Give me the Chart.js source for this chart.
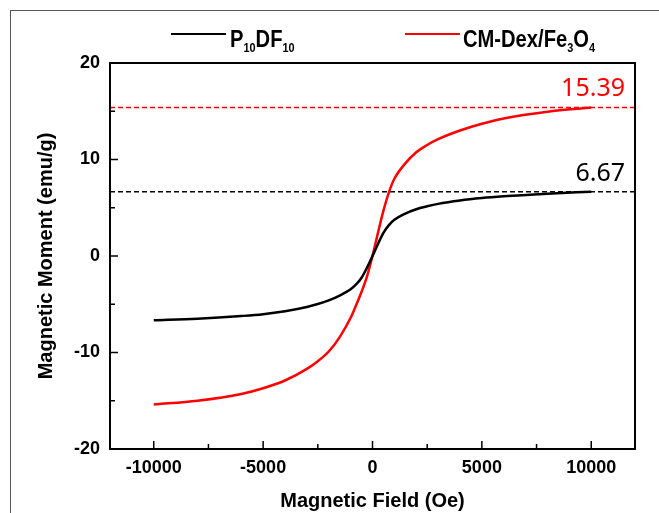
<!DOCTYPE html>
<html>
<head>
<meta charset="utf-8">
<script src="https://cdn.jsdelivr.net/npm/chart.js@4.4.1/dist/chart.umd.min.js"></script>
<style>
  html, body { margin: 0; padding: 0; background: #fff; overflow: hidden; }
  #frame { position: absolute; left: 10px; top: 10px; width: 700px; height: 600px;
           border-left: 1.5px solid #555; border-top: 1.5px solid #555; }
  #chart { position: absolute; left: 0; top: 0; }
  .swatch { position: absolute; top: 33px; width: 55px; height: 2px; }
  .label { position: absolute; top: 27px; line-height: 24px; white-space: nowrap;
           font-family: "Liberation Sans", Arial, sans-serif; font-weight: bold; font-size: 24px;
           color: #000; transform: scaleX(0.84); transform-origin: left top; }
  .label sub { font-size: 13px; vertical-align: -5px; line-height: 0; }
</style>
</head>
<body>
<div id="frame"></div>
<canvas id="chart" width="659" height="513"></canvas>
<div class="swatch" style="left:171px;background:#000"></div>
<div class="label" style="left:230px">P<sub>10</sub>DF<sub>10</sub></div>
<div class="swatch" style="left:405px;background:#ff0000"></div>
<div class="label" style="left:463px">CM-Dex/Fe<sub>3</sub>O<sub>4</sub></div>
<script>
// magnetic field (Oe)
const field = [-10000, -8000, -6000, -5000, -4000, -3000, -2500, -2000, -1500, -1000, -750, -500, -250, 0,
  250, 500, 750, 1000, 1500, 2000, 2500, 3000, 4000, 5000, 6000, 8000, 10000];
// magnetic moment (emu/g)
const p10df10 = [-6.67, -6.5, -6.22, -6.03, -5.72, -5.28, -4.98, -4.6, -4.1, -3.45, -2.95, -2.25, -1.2, 0,
  1.25, 2.4, 3.2, 3.75, 4.4, 4.85, 5.15, 5.4, 5.75, 6.0, 6.18, 6.45, 6.67];
const cmDexFe3O4 = [-15.39, -15.0, -14.3, -13.7, -12.9, -11.7, -10.9, -9.9, -8.4, -6.4, -5.1, -3.7, -2.1, 0,
  2.4, 4.7, 6.6, 8.0, 9.6, 10.75, 11.5, 12.1, 13.0, 13.7, 14.25, 14.95, 15.39];

const satValues = [6.67, 15.39];
const satLabels = ["6.67", "15.39"];
const colors = ["#000000", "#ff0000"];

const xRange = [-12000, 12000];
const yRange = [-20, 20];
const xTicks = [-10000, -5000, 0, 5000, 10000];
const xMinor = [-7500, -2500, 2500, 7500];
const yTicks = [-20, -10, 0, 10, 20];
const yMinor = [-15, -5, 5, 15];

const tickFont = { family: "Liberation Sans, Arial, sans-serif", size: 18, weight: "bold" };
const titleFont = { family: "Liberation Sans, Arial, sans-serif", size: 20, weight: "bold" };

const toPts = (ys) => field.map((x, i) => ({ x: x, y: ys[i] }));

// frame, inward ticks and saturation labels
const extras = {
  id: "extras",
  afterDatasetsDraw(chart) {
    const ctx = chart.ctx;
    const a = chart.chartArea;
    const xs = chart.scales.x;
    const ys = chart.scales.y;
    ctx.save();
    ctx.strokeStyle = "#000";
    ctx.lineWidth = 2;
    ctx.strokeRect(a.left, a.top, a.right - a.left, a.bottom - a.top);
    ctx.lineWidth = 1.5;
    ctx.beginPath();
    xTicks.forEach(v => { const p = xs.getPixelForValue(v); ctx.moveTo(p, a.bottom); ctx.lineTo(p, a.bottom - 8); });
    xMinor.forEach(v => { const p = xs.getPixelForValue(v); ctx.moveTo(p, a.bottom); ctx.lineTo(p, a.bottom - 5); });
    yTicks.forEach(v => { const p = ys.getPixelForValue(v); ctx.moveTo(a.left, p); ctx.lineTo(a.left + 8, p); });
    yMinor.forEach(v => { const p = ys.getPixelForValue(v); ctx.moveTo(a.left, p); ctx.lineTo(a.left + 5, p); });
    ctx.stroke();

    ctx.font = '25px "Noto Sans", sans-serif';
    ctx.textAlign = "right";
    ctx.textBaseline = "alphabetic";
    satValues.forEach((v, i) => {
      ctx.fillStyle = colors[i];
      ctx.fillText(satLabels[i], a.right - 10, ys.getPixelForValue(v) - 11);
    });
    ctx.restore();
  }
};

new Chart(document.getElementById("chart").getContext("2d"), {
  type: "line",
  data: {
    datasets: [
      { label: "P10DF10", data: toPts(p10df10), borderColor: colors[0], borderWidth: 2.5,
        cubicInterpolationMode: "monotone", pointRadius: 0, fill: false },
      { label: "CM-Dex/Fe3O4", data: toPts(cmDexFe3O4), borderColor: colors[1], borderWidth: 2.5,
        cubicInterpolationMode: "monotone", pointRadius: 0, fill: false },
      { label: "Ms1", data: xRange.map(x => ({ x: x, y: satValues[0] })), borderColor: colors[0],
        borderWidth: 1.5, borderDash: [5, 3], pointRadius: 0, fill: false },
      { label: "Ms2", data: xRange.map(x => ({ x: x, y: satValues[1] })), borderColor: colors[1],
        borderWidth: 1.5, borderDash: [5, 3], pointRadius: 0, fill: false },
    ],
  },
  options: {
    responsive: false,
    animation: false,
    devicePixelRatio: 1,
    layout: { padding: { top: 63, right: 24, left: 0, bottom: 0 } },
    plugins: { legend: { display: false }, tooltip: { enabled: false } },
    scales: {
      x: {
        type: "linear",
        min: xRange[0],
        max: xRange[1],
        afterBuildTicks: (s) => { s.ticks = xTicks.map(v => ({ value: v })); },
        afterFit: (s) => { s.height = 64; },
        grid: { display: false, drawTicks: false },
        border: { display: false },
        ticks: { font: tickFont, color: "#000", padding: 8, maxRotation: 0, autoSkip: false,
          callback: (v) => String(v) },
        title: { display: true, text: "Magnetic Field (Oe)", font: titleFont, color: "#000",
          padding: { top: 0, bottom: 0 } },
      },
      y: {
        type: "linear",
        min: yRange[0],
        max: yRange[1],
        afterBuildTicks: (s) => { s.ticks = yTicks.map(v => ({ value: v })); },
        afterFit: (s) => { s.width = 110; },
        grid: { display: false, drawTicks: false },
        border: { display: false },
        ticks: { font: tickFont, color: "#000", padding: 10, autoSkip: false,
          callback: (v) => String(v) },
        title: { display: true, text: "Magnetic Moment (emu/g)", font: titleFont, color: "#000",
          padding: { top: 34, bottom: 0 } },
      },
    },
  },
  plugins: [extras],
});
</script>
</body>
</html>
